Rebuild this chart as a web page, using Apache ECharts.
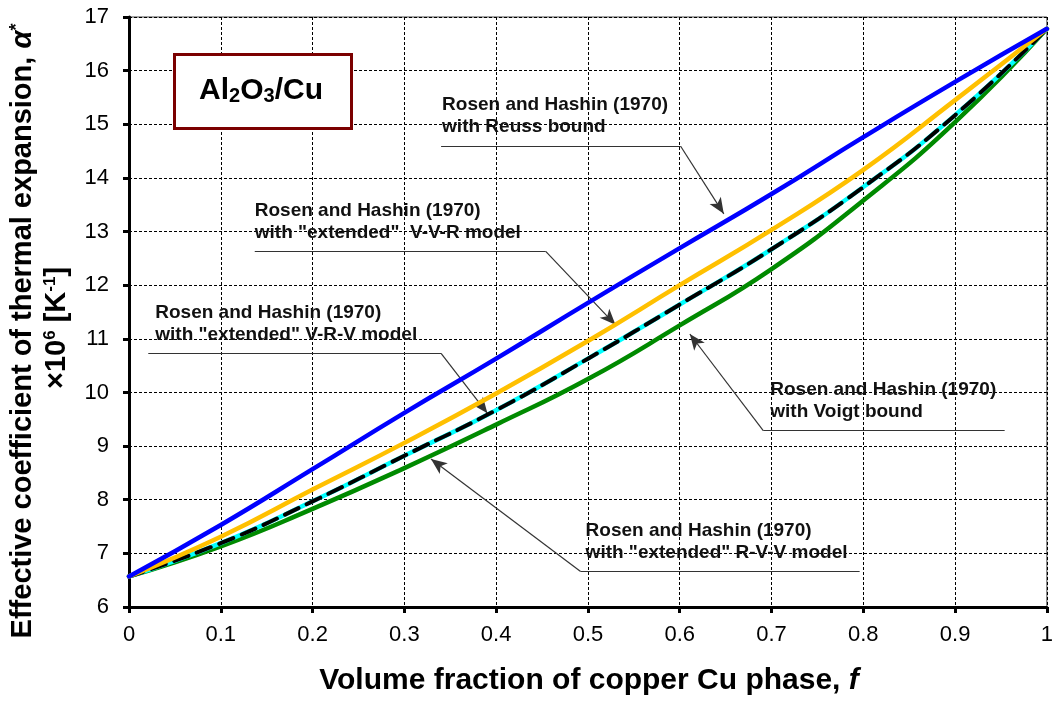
<!DOCTYPE html>
<html>
<head>
<meta charset="utf-8">
<script src="https://cdn.jsdelivr.net/npm/echarts@6/dist/echarts.min.js"></script>
<style>
html, body { margin: 0; padding: 0; background: #fff; }
#chart { width: 1056px; height: 701px; }
</style>
</head>
<body>
<div id="chart"></div>
<script>
// volume fraction of Cu
var fraction = [0, 0.1, 0.2, 0.3, 0.4, 0.5, 0.6, 0.7, 0.8, 0.9, 1];
// effective CTE x10^6 [1/K]
var reussBound  = [6.57, 7.53, 8.57, 9.62, 10.63, 11.67, 12.69, 13.70, 14.76, 15.79, 16.78];
var extendedVVR = [6.57, 7.31, 8.19, 9.06, 9.98, 10.96, 12.00, 13.03, 14.15, 15.45, 16.78];
var cyanCurve   = [6.57, 7.19, 7.97, 8.82, 9.67, 10.63, 11.64, 12.67, 13.83, 15.17, 16.78];
var extendedVRV = [6.57, 7.19, 7.97, 8.82, 9.67, 10.63, 11.64, 12.67, 13.83, 15.17, 16.78];
var voigtBound  = [6.57, 7.13, 7.83, 8.59, 9.40, 10.25, 11.25, 12.30, 13.58, 15.04, 16.78];

// annotation leaders (data units): underline [x1, x2, y], knee end, arrow tip
var notes = [
  { text: ['Rosen and Hashin (1970)', 'with Reuss bound'], under: [0.340, 0.601, 14.59], knee: 'right', tip: [0.648, 13.33], dx: 1 },
  { text: ['Rosen and Hashin (1970)', 'with "extended"  V-V-R model'], under: [0.137, 0.454, 12.63], knee: 'right', tip: [0.530, 11.26], dx: 0 },
  { text: ['Rosen and Hashin (1970)', 'with "extended" V-R-V model'], under: [0.021, 0.340, 10.73], knee: 'right', tip: [0.3905, 9.61], dx: 7 },
  { text: ['Rosen and Hashin (1970)', 'with Voigt bound'], under: [0.691, 0.954, 9.29], knee: 'left', tip: [0.611, 11.09], dx: 7 },
  { text: ['Rosen and Hashin (1970)', 'with "extended" R-V-V model'], under: [0.492, 0.796, 6.66], knee: 'left', tip: [0.329, 8.76], dx: 5 }
];

var FONT = 'Arial, "Liberation Sans", sans-serif';

function pairs(ys) {
  return fraction.map(function (x, i) { return [x, ys[i]]; });
}

function curve(name, ys, color, width, type, z) {
  return {
    name: name, type: 'line', data: pairs(ys), smooth: 0.5,
    symbol: 'none', silent: true, z: z,
    lineStyle: { color: color, width: width, type: type || 'solid', cap: 'round' }
  };
}

var leaderLines = [];
notes.forEach(function (n) {
  var kx = n.knee === 'right' ? n.under[1] : n.under[0];
  leaderLines.push([
    { coord: [n.under[0], n.under[2]], symbol: 'none' },
    { coord: [n.under[1], n.under[2]], symbol: 'none' }
  ]);
  leaderLines.push([
    { coord: [kx, n.under[2]], symbol: 'none' },
    { coord: n.tip, symbol: 'arrow', symbolSize: [10, 16] }
  ]);
});

var chart = echarts.init(document.getElementById('chart'));

chart.setOption({
  animation: false,
  grid: { left: 129, right: 7, top: 17, bottom: 94, show: true, borderColor: '#444', borderWidth: 1 },
  xAxis: {
    type: 'value', min: 0, max: 1, interval: 0.1,
    axisLine: { lineStyle: { color: '#000', width: 3 } },
    axisTick: { length: 6, lineStyle: { color: '#000', width: 3 } },
    axisLabel: { color: '#000', fontSize: 22, fontFamily: FONT, margin: 17 },
    splitLine: { lineStyle: { color: '#000', width: 1, type: [3, 2] } }
  },
  yAxis: {
    type: 'value', min: 6, max: 17, interval: 1,
    axisLine: { show: true, lineStyle: { color: '#000', width: 3 } },
    axisTick: { show: true, length: 6, lineStyle: { color: '#000', width: 3 } },
    axisLabel: { color: '#000', fontSize: 22, fontFamily: FONT, margin: 20 },
    splitLine: { lineStyle: { color: '#000', width: 1, type: [3, 2] } }
  },
  series: [
    curve('Voigt bound', voigtBound, '#008a00', 4.5, 'solid', 3),
    curve('cyan', cyanCurve, '#00ffff', 4.5, 'solid', 4),
    curve('extended V-R-V', extendedVRV, '#000', 4, [15, 9], 5),
    curve('extended V-V-R', extendedVVR, '#ffc000', 4.5, 'solid', 6),
    curve('Reuss bound', reussBound, '#0000ff', 4.5, 'solid', 7),
    {
      name: 'leaders', type: 'line', data: [], silent: true, z: 8,
      markLine: {
        silent: true, animation: false,
        symbol: ['none', 'none'],
        label: { show: false },
        emphasis: { disabled: true },
        lineStyle: { color: '#333', width: 1.2, type: 'solid' },
        data: leaderLines
      }
    }
  ]
});

var graphics = [
  {
    type: 'rect', left: 173, top: 53, z: 10,
    shape: { width: 177, height: 74 },
    style: { fill: '#fff', stroke: '#7b0000', lineWidth: 3 }
  },
  {
    type: 'text', x: 261, y: 91, z: 11,
    style: {
      text: '{m|Al}{s|2}{m|O}{s|3}{m|/Cu}',
      textAlign: 'center', textVerticalAlign: 'middle',
      rich: {
        m: { fontSize: 30, fontWeight: 'bold', fontFamily: FONT, fill: '#000', lineHeight: 30 },
        s: { fontSize: 20, fontWeight: 'bold', fontFamily: FONT, fill: '#000', lineHeight: 20, verticalAlign: 'bottom' }
      }
    }
  },
  {
    type: 'text', x: 23, y: 331, rotation: Math.PI / 2, z: 11,
    style: {
      text: 'Effective coefficient of thermal expansion, {i|α}{sup|*}',
      textAlign: 'center', textVerticalAlign: 'middle',
      font: 'bold 29px ' + FONT, fill: '#000',
      rich: {
        i: { fontSize: 29, fontWeight: 'bold', fontStyle: 'italic', fontFamily: FONT, fill: '#000', lineHeight: 30 },
        sup: { fontSize: 18, fontWeight: 'bold', fontFamily: FONT, fill: '#000', lineHeight: 18, verticalAlign: 'top' }
      }
    }
  },
  {
    type: 'text', x: 57, y: 328, rotation: Math.PI / 2, z: 11,
    style: {
      text: '{m|×10}{sup|6}{m| [K}{sup|-1}{m|]}',
      textAlign: 'center', textVerticalAlign: 'middle',
      rich: {
        m: { fontSize: 29, fontWeight: 'bold', fontFamily: FONT, fill: '#000', lineHeight: 30 },
        sup: { fontSize: 17, fontWeight: 'bold', fontFamily: FONT, fill: '#000', lineHeight: 17, verticalAlign: 'top' }
      }
    }
  },
  {
    type: 'text', x: 589, y: 681, z: 11,
    style: {
      text: 'Volume fraction of copper Cu phase, {i|f}',
      textAlign: 'center', textVerticalAlign: 'middle',
      font: 'bold 30px ' + FONT, fill: '#000',
      rich: {
        i: { fontSize: 30, fontWeight: 'bold', fontStyle: 'italic', fontFamily: FONT, fill: '#000' }
      }
    }
  }
];

notes.forEach(function (n) {
  var p = chart.convertToPixel({ gridIndex: 0 }, [n.under[0], n.under[2]]);
  graphics.push({
    type: 'text', x: p[0] + n.dx, y: p[1] - 8, z: 11,
    style: {
      text: n.text.join('\n'),
      font: 'bold 19px ' + FONT, fill: '#111',
      lineHeight: 22,
      textAlign: 'left', textVerticalAlign: 'bottom'
    }
  });
});

chart.setOption({ graphic: graphics });
</script>
</body>
</html>
